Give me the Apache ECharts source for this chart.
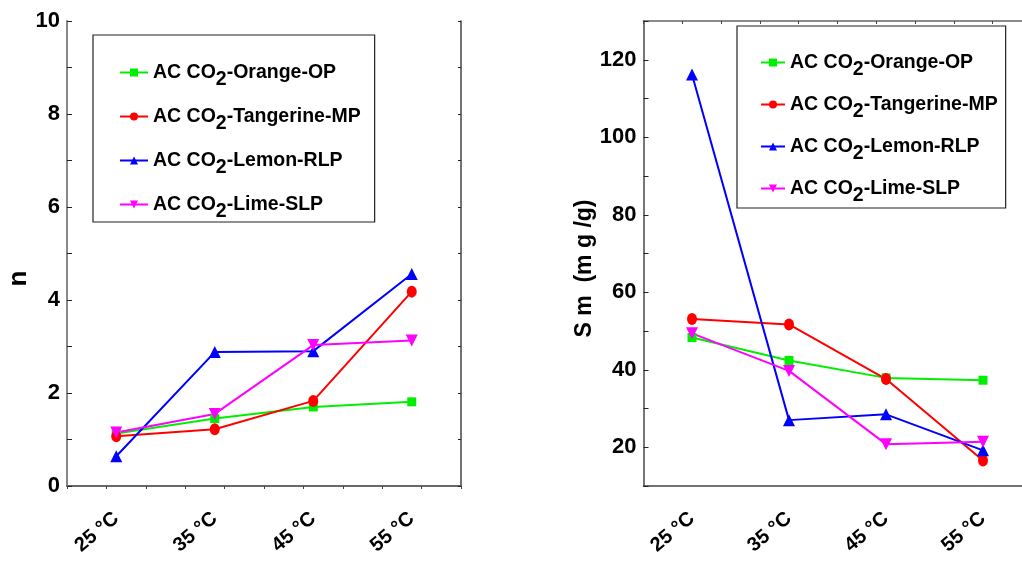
<!DOCTYPE html>
<html>
<head>
<meta charset="utf-8">
<script src="https://cdn.jsdelivr.net/npm/echarts@6/dist/echarts.min.js"></script>
<style>html,body{margin:0;padding:0;background:#fff}#c{width:1022px;height:566px}</style>
</head>
<body>
<div id="c"></div>
<script>
const categories = ['25 °C', '35 °C', '45 °C', '55 °C'];
const seriesNames = ['AC CO2-Orange-OP', 'AC CO2-Tangerine-MP', 'AC CO2-Lemon-RLP', 'AC CO2-Lime-SLP'];
const nOrange = [1.13, 1.45, 1.70, 1.81];
const nTangerine = [1.07, 1.22, 1.83, 4.18];
const nLemon = [0.64, 2.88, 2.90, 4.56];
const nLime = [1.15, 1.55, 3.03, 3.13];
const smOrange = [48.3, 42.4, 37.9, 37.3];
const smTangerine = [53.1, 51.7, 37.6, 16.6];
const smLemon = [116.2, 27.0, 28.5, 19.2];
const smLime = [49.4, 39.7, 20.8, 21.4];

const FONT = '"Liberation Sans", Arial, sans-serif';
const colors = ['#00ee00', '#ff0000', '#0000ff', '#ff00ff'];
const symbols = ['rect', 'circle', 'triangle', 'triangle'];
const symbolSizes = [9, [10, 12], 12, 12];
const rotates = [0, 0, 0, 180];
const AX = '#666';

function mkSeries(data, xi, yi, k) {
  return {
    type: 'line', name: seriesNames[k], data: data,
    xAxisIndex: xi, yAxisIndex: yi,
    symbol: symbols[k], symbolSize: symbolSizes[k], symbolRotate: rotates[k],
    lineStyle: { color: colors[k], width: 2 },
    itemStyle: { color: colors[k] },
    z: 3
  };
}

function legendFmt(name) {
  return name.replace('CO2', 'CO{s|2}');
}
function mkLegend(left, top, pad, gap, iw) {
  return {
    orient: 'vertical', left: left, top: top,
    data: seriesNames,
    padding: pad, itemGap: gap, itemWidth: iw, itemHeight: 10,
    borderColor: '#222', borderWidth: 1.2, borderRadius: 0,
    backgroundColor: '#fff',
    formatter: legendFmt,
    textStyle: {
      fontFamily: FONT, fontSize: 19.5, fontWeight: 'bold', color: '#000', lineHeight: 22,
      rich: { s: { fontFamily: FONT, fontSize: 19.5, fontWeight: 'bold', color: '#000', lineHeight: 22, padding: [15, 0, 0, 0] } }
    }
  };
}

const xLabel = { rotate: 40, margin: 30, fontFamily: FONT, fontSize: 20, fontWeight: 'bold', color: '#000' };

function xAxes(gi) {
  return [
    { type: 'category', gridIndex: gi, data: categories, position: 'bottom', boundaryGap: true,
      axisLine: { lineStyle: { color: '#444', width: 1.5 } },
      axisTick: { inside: true, length: 9, alignWithLabel: true, lineStyle: { color: '#444', width: 1.5 } },
      axisLabel: xLabel, splitLine: { show: false } },
    { type: 'value', gridIndex: gi, position: 'top', min: 0, max: 10, interval: 1,
      axisLine: { show: true, lineStyle: { color: AX, width: 1.5 } },
      axisTick: { inside: true, length: 3, lineStyle: { color: '#444' } },
      axisLabel: { show: false }, splitLine: { show: false } },
    { type: 'category', gridIndex: gi, data: categories, position: 'bottom', boundaryGap: true,
      axisLine: { show: false },
      axisTick: { inside: true, length: 2, alignWithLabel: false, lineStyle: { color: '#444' } },
      axisLabel: { show: false }, splitLine: { show: false } }
  ];
}

const option = {
  animation: false,
  backgroundColor: '#fff',
  grid: [
    { left: 67, width: 394, top: 21, height: 465, show: false, containLabel: false, outerBoundsMode: 'none' },
    { left: 643.5, width: 388, top: 21, height: 465, show: false, containLabel: false, outerBoundsMode: 'none' }
  ],
  legend: [
    mkLegend(93, 35, [20, 14, 0, 26], 9, 28),
    mkLegend(737, 26, [19, 8, 2, 23], 7, 24)
  ],
  xAxis: xAxes(0).concat(xAxes(1)),
  yAxis: [
    { type: 'value', gridIndex: 0, min: 0, max: 10, interval: 2, position: 'left',
      name: 'n', nameLocation: 'middle', nameGap: 29,
      nameTextStyle: { fontFamily: FONT, fontSize: 26, fontWeight: 'bold', color: '#000', padding: [0, 50, 0, 0] },
      axisLine: { show: true, lineStyle: { color: '#888', width: 2 } },
      axisTick: { inside: true, length: 5, lineStyle: { color: '#222' } },
      minorTick: { show: true, splitNumber: 2, length: 5, lineStyle: { color: '#222' } },
      axisLabel: { margin: 7, fontFamily: FONT, fontSize: 22, fontWeight: 'bold', color: '#000' },
      splitLine: { show: false }, minorSplitLine: { show: false } },
    { type: 'value', gridIndex: 0, min: 0, max: 10, interval: 1, position: 'right',
      axisLine: { show: true, lineStyle: { color: '#444', width: 1.5 } },
      axisTick: { inside: true, length: 3, lineStyle: { color: '#222' } },
      axisLabel: { show: false }, splitLine: { show: false } },
    { type: 'value', gridIndex: 1, min: 10, max: 130, interval: 10, position: 'left',
      name: 'S m  (m g /g)', nameLocation: 'middle', nameGap: 25,
      nameTextStyle: { fontFamily: FONT, fontSize: 23, fontWeight: 'bold', color: '#000', padding: [0, 30, 0, 0] },
      axisLine: { show: true, lineStyle: { color: '#777', width: 2 } },
      axisTick: { inside: true, length: 5, lineStyle: { color: '#222' } },
      axisLabel: { margin: 7, fontFamily: FONT, fontSize: 22, fontWeight: 'bold', color: '#000',
        formatter: function (v) { return (v % 20 === 0 && v >= 20 && v <= 120) ? String(v) : ''; } },
      splitLine: { show: false } },
    { type: 'value', gridIndex: 1, min: 10, max: 130, interval: 10, position: 'right',
      axisLine: { show: true, lineStyle: { color: '#444', width: 1.5 } },
      axisTick: { inside: true, length: 3 },
      axisLabel: { show: false }, splitLine: { show: false } }
  ],
  series: [
    mkSeries(nOrange, 0, 0, 0),
    mkSeries(nTangerine, 0, 0, 1),
    mkSeries(nLemon, 0, 0, 2),
    mkSeries(nLime, 0, 0, 3),
    mkSeries(smOrange, 3, 2, 0),
    mkSeries(smTangerine, 3, 2, 1),
    mkSeries(smLemon, 3, 2, 2),
    mkSeries(smLime, 3, 2, 3)
  ]
};
const chart = echarts.init(document.getElementById('c'), null, { renderer: 'canvas' });
chart.setOption(option);
</script>
</body>
</html>
